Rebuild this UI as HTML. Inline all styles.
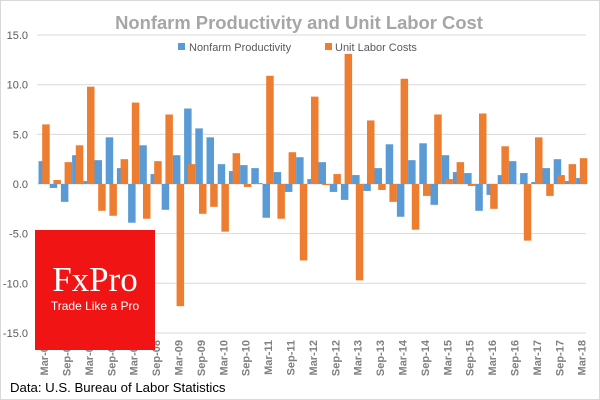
<!DOCTYPE html>
<html><head><meta charset="utf-8"><style>
html,body{margin:0;padding:0;background:#fff}
svg{display:block;font-family:"Liberation Sans",sans-serif}
</style></head><body>
<svg id="c" width="600" height="400">
<rect x="0.5" y="0.5" width="599" height="399" fill="#fff" stroke="#d9d9d9"/>
<text x="299" y="29" text-anchor="middle" font-size="18.4" font-weight="bold" fill="#a6a6a6">Nonfarm Productivity and Unit Labor Cost</text>
<g>
<rect x="178" y="43" width="7" height="7" fill="#5b9bd5"/>
<text x="189" y="51" font-size="11" fill="#595959">Nonfarm Productivity</text>
<rect x="325" y="43" width="7" height="7" fill="#ed7d31"/>
<text x="335" y="51" font-size="11" fill="#595959">Unit Labor Costs</text>
</g>
<g id="grid"></g><g id="bars"></g><g id="xl"></g>
<g>
<rect x="35" y="230" width="120" height="120" fill="#f01414"/>
<text x="95" y="291" text-anchor="middle" font-family="Liberation Serif,serif" font-size="35" fill="#fff">FxPro</text>
<text x="95" y="310" text-anchor="middle" font-size="12" fill="#fff">Trade Like a Pro</text>
</g>
<text x="10" y="392" font-size="13.2" fill="#000">Data: U.S. Bureau of Labor Statistics</text>
</svg>
<script>
const categories=[];
const yrs=['06','07','08','09','10','11','12','13','14','15','16','17','18'];
const qs=['Mar','Jun','Sep','Dec'];
for(const y of yrs)for(const q of qs){if(y==='18'&&q!=='Mar')break;categories.push(q+'-'+y);}
const productivity=[2.3,-0.4,-1.8,2.9,0.3,2.4,4.7,1.6,-3.9,3.9,1.0,-2.6,2.9,7.6,5.6,4.7,2.0,1.3,1.9,1.6,-3.4,1.2,-0.8,2.7,0.5,2.2,-0.8,-1.6,0.9,-0.7,1.6,4.0,-3.3,2.4,4.1,-2.1,2.9,1.2,1.1,-2.7,-1.1,0.9,2.3,1.1,0.2,1.6,2.5,0.3,0.6];
const unitLaborCosts=[6.0,0.4,2.2,3.9,9.8,-2.7,-3.2,2.5,8.2,-3.5,2.3,7.0,-12.3,2.0,-3.0,-2.3,-4.8,3.1,-0.3,0.1,10.9,-3.5,3.2,-7.7,8.8,-0.1,1.0,13.1,-9.7,6.4,-0.6,-1.8,10.6,-4.6,-1.2,7.0,0.5,2.2,-0.2,7.1,-2.5,3.8,0,-5.7,4.7,-1.2,0.9,2.0,2.6];
const yTicks=[15,10,5,0,-5,-10,-15];
const NS='http://www.w3.org/2000/svg';
const x0=38.5,cw=11.2,bw=7.5,off=3.7;
const y=v=>184-v*9.93;
const xc=i=>x0+i*cw;
function mk(t,a,p){const e=document.createElementNS(NS,t);for(const k in a)e.setAttribute(k,a[k]);p.appendChild(e);return e;}
const g=document.getElementById('grid'),b=document.getElementById('bars'),xl=document.getElementById('xl');
yTicks.forEach(v=>{
 const l=mk('line',{x1:37,x2:586,y1:y(v),y2:y(v),stroke:'#d9d9d9','stroke-width':1},g);
 
 
 const t=mk('text',{x:28,y:y(v)+4,'text-anchor':'end','font-size':11,fill:'#595959'},g);
 t.textContent=v.toFixed(1);
 
 
});
categories.forEach((c,i)=>{
 const p=productivity[i],u=unitLaborCosts[i];
 const r1=mk('rect',{x:xc(i),y:Math.min(y(p),y(0)),width:bw,height:Math.abs(y(p)-y(0)),fill:'#5b9bd5'},b);
 
 
 const r2=mk('rect',{x:xc(i)+off,y:Math.min(y(u),y(0)),width:bw,height:Math.abs(y(u)-y(0)),fill:'#ed7d31'},b);
 
 
 if(i%2===0){
  const cx=xc(i)+5.6+4;
  const t=mk('text',{x:0,y:0,'text-anchor':'end','font-size':11,'font-weight':'bold',fill:'#7f7f7f',transform:'translate('+cx+',340) rotate(-90)'},xl);
  t.textContent=c;
  
  
 }
});
</script>
</body></html>
